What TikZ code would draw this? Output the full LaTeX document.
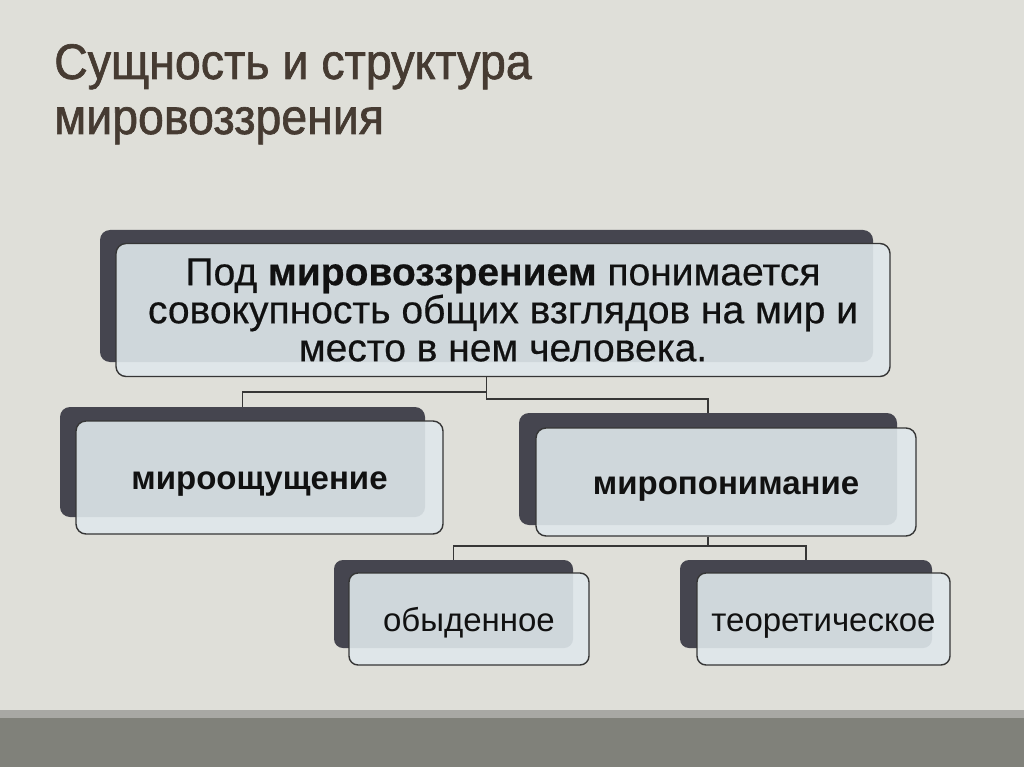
\documentclass[tikz,border=0pt]{standalone}
\usepackage{fontspec}
\setmainfont{Liberation Sans}
\newfontfamily\titlefont[FakeBold=1.3,FakeStretch=0.93]{Liberation Sans}
\newfontfamily\boxfont[FakeBold=0.5]{Liberation Sans}
\definecolor{bgc}{HTML}{DFDFD9}
\definecolor{bandlight}{HTML}{A8A8A4}
\definecolor{banddark}{HTML}{80817A}
\definecolor{titlec}{HTML}{463B32}
\definecolor{backc}{HTML}{45454F}
\definecolor{frontc}{HTML}{DFE7EB}
\definecolor{edgec}{HTML}{363636}
\definecolor{txtc}{HTML}{111111}
\tikzset{
  backbox/.style={fill=backc, draw=none, rounded corners=10pt, inner sep=0pt},
  frontbox/.style={fill=frontc, fill opacity=0.9, text opacity=1, draw=edgec, line width=1.4pt,
    rounded corners=10pt, inner sep=0pt, text=txtc, align=center},
  oneline/.style={text height=24pt, text depth=0pt},
  conn/.style={draw=edgec, line width=1.6pt},
  titletext/.style={text=titlec, anchor=base west, inner sep=0pt, font=\titlefont\fontsize{50}{54}\selectfont}
}
\begin{document}
\begin{tikzpicture}[x=1pt, y=-1pt]
\useasboundingbox (0,0) rectangle (1024,767);
\fill[bgc] (0,0) rectangle (1024,767);
\fill[bandlight] (0,710) rectangle (1024,718);
\fill[banddark] (0,718) rectangle (1024,767);

\node[titletext] (t1) at (54,79) {Сущность и структура};
\node[titletext] (t2) at (54,134) {мировоззрения};

% top box
\node[backbox, minimum width=773pt, minimum height=132pt] (topback) at (486.5,296) {};
\node[frontbox, minimum width=774pt, minimum height=133pt, font=\boxfont\fontsize{39}{38}\selectfont] (topfront) at (503,310)
  {Под \textbf{мировоззрением} понимается\\совокупность общих взглядов на мир и\\место в нем человека.};

% middle left
\node[backbox, minimum width=365pt, minimum height=110pt] (mlback) at (242.5,462) {};
\node[frontbox, oneline, minimum width=367pt, minimum height=113pt, font=\fontsize{33}{36}\selectfont\bfseries] (mlfront) at (259.5,477.5) {мироощущение};

% middle right
\node[backbox, minimum width=378pt, minimum height=112pt] (mrback) at (708,469) {};
\node[frontbox, oneline, minimum width=380pt, minimum height=108pt, font=\fontsize{33}{36}\selectfont\bfseries] (mrfront) at (726,482) {миропонимание};

% bottom left
\node[backbox, rounded corners=9pt, minimum width=239pt, minimum height=88pt] (blback) at (453.5,604) {};
\node[frontbox, oneline, rounded corners=9pt, minimum width=240pt, minimum height=92pt, font=\fontsize{33}{36}\selectfont] (blfront) at (469,619) {обыденное};

% bottom right
\node[backbox, rounded corners=9pt, minimum width=252pt, minimum height=88pt] (brback) at (806,604) {};
\node[frontbox, oneline, rounded corners=9pt, minimum width=253pt, minimum height=92pt, font=\fontsize{33}{36}\selectfont] (brfront) at (823.5,619) {теоретическое};

% connectors
\coordinate (topout) at (topback.south |- topfront.south);
\coordinate (mrout) at (mrback.south |- mrfront.south);
\draw[conn] (topout) -- ++(0,15) -| (mlback.north);
\draw[conn] (topout) -- ++(0,22) -| (mrback.north);
\draw[conn] (mrout) -- ++(0,9) -| (blback.north);
\draw[conn] (mrout) -- ++(0,9) -| (brback.north);
\end{tikzpicture}
\end{document}
